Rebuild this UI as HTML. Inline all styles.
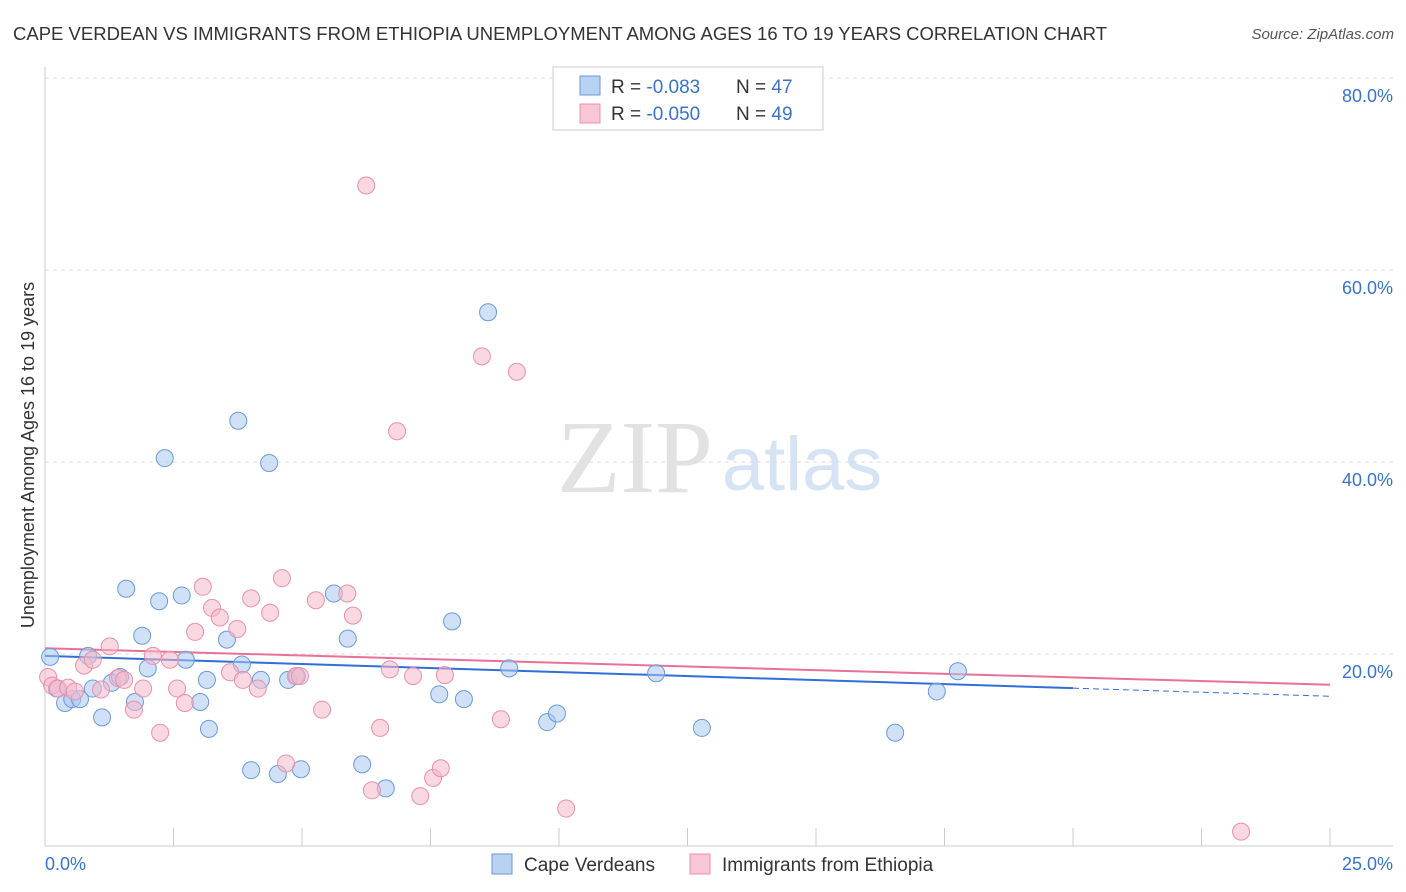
<!DOCTYPE html>
<html><head><meta charset="utf-8"><style>
body{margin:0;background:#fff;font-family:"Liberation Sans",sans-serif;}
svg{display:block}
</style></head><body>
<svg id="chart" width="1406" height="892">
<text x="13" y="40" font-size="18" fill="#333" textLength="1094" lengthAdjust="spacingAndGlyphs">CAPE VERDEAN VS IMMIGRANTS FROM ETHIOPIA UNEMPLOYMENT AMONG AGES 16 TO 19 YEARS CORRELATION CHART</text>
<text x="1394" y="39" font-size="15" fill="#555" font-style="italic" text-anchor="end">Source: ZipAtlas.com</text>
<g>
<text x="635" y="492" font-size="104" fill="#e2e2e2" font-family="Liberation Serif,serif" text-anchor="middle">ZIP</text>
<text x="802" y="490" font-size="76" fill="#d6e3f5" text-anchor="middle">atlas</text>
</g>
<g id="grid"></g>
<g id="axes"></g>
<g id="trends"></g>
<g id="points"></g>
<text transform="translate(34,455) rotate(-90)" font-size="18" fill="#333" text-anchor="middle">Unemployment Among Ages 16 to 19 years</text>
<text x="45" y="870" font-size="18" fill="#3a72c8">0.0%</text>
<text x="1393" y="870" font-size="18" fill="#3a72c8" text-anchor="end">25.0%</text>
<g>
<rect x="553" y="67" width="270" height="63" fill="#fff" stroke="#ccc"/>
<rect x="580" y="76" width="20" height="19" fill="#b8d2f2" stroke="#6a9ad8"/>
<rect x="580" y="104" width="20" height="19" fill="#f8c6d5" stroke="#e890ab"/>
<text x="611" y="93" font-size="19" fill="#333">R = <tspan fill="#3a72c8">-0.083</tspan><tspan x="736">N = </tspan><tspan fill="#3a72c8">47</tspan></text>
<text x="611" y="120" font-size="19" fill="#333">R = <tspan fill="#3a72c8">-0.050</tspan><tspan x="736">N = </tspan><tspan fill="#3a72c8">49</tspan></text>
</g>
<g>
<rect x="492" y="854" width="20" height="20" fill="#b8d2f2" stroke="#6a9ad8"/>
<text x="524" y="871" font-size="19" fill="#333">Cape Verdeans</text>
<rect x="690" y="854" width="20" height="20" fill="#f8c6d5" stroke="#e890ab"/>
<text x="722" y="871" font-size="19" fill="#333">Immigrants from Ethiopia</text>
</g>
</svg>
<script>
const yTicks=[20,40,60,80];
const yTickLabels=["20.0%","40.0%","60.0%","80.0%"];
const xTicks=[0,2.5,5,7.5,10,12.5,15,17.5,20,22.5,25];
const blueX=[0.10,0.23,0.39,0.53,0.68,0.84,0.93,1.11,1.30,1.46,1.58,1.75,1.89,2.00,2.22,2.33,2.66,2.74,3.02,3.15,3.19,3.54,3.76,3.83,4.01,4.20,4.36,4.53,4.73,4.90,4.98,5.62,5.89,6.17,6.63,7.67,7.92,8.15,8.62,9.03,9.77,9.96,11.89,12.78,16.54,17.35,17.76];
const blueY=[19.7,16.4,14.9,15.3,15.3,19.8,16.4,13.4,17.0,17.6,26.8,15.0,21.9,18.5,25.5,40.4,26.1,19.4,15.0,17.3,12.2,21.5,44.3,18.9,7.9,17.3,39.9,7.5,17.3,17.7,8.0,26.3,21.6,8.5,6.0,15.8,23.4,15.3,55.6,18.5,12.9,13.8,18.0,12.3,11.8,16.1,18.2];
const pinkX=[0.06,0.14,0.25,0.45,0.58,0.76,0.93,1.09,1.26,1.42,1.54,1.73,1.91,2.10,2.24,2.43,2.57,2.72,2.92,3.07,3.25,3.40,3.60,3.74,3.85,4.01,4.14,4.38,4.61,4.69,4.88,4.96,5.27,5.39,5.88,5.99,6.25,6.36,6.52,6.71,6.85,7.16,7.30,7.55,7.70,7.78,8.50,8.87,9.18,10.14,23.27];
const pinkY=[17.6,16.7,16.4,16.5,16.1,18.8,19.4,16.3,20.8,17.5,17.3,14.2,16.4,19.8,11.8,19.4,16.4,14.9,22.3,27.0,24.8,23.8,18.1,22.6,17.3,25.8,16.4,24.3,27.9,8.6,17.7,17.7,25.6,14.2,26.3,24.0,68.8,5.8,12.3,18.4,43.2,17.7,5.2,7.1,8.1,17.8,51.0,13.2,49.4,3.9,1.5];
const blueTrend=[19.8,15.6];
const pinkTrend=[20.6,16.8];
const X=v=>45+v/25*1285, Y=v=>846-v/80*768;
const NS="http://www.w3.org/2000/svg";
function mk(parent,tag,attrs){const e=document.createElementNS(NS,tag);for(const k in attrs)e.setAttribute(k,attrs[k]);document.getElementById(parent).appendChild(e);return e;}
yTicks.forEach((t,i)=>{
 const l=mk('grid','line',{x1:45,x2:1393,y1:Y(t),y2:Y(t),stroke:'#ddd','stroke-dasharray':'4,4'});
 
 
 const tx=mk('grid','text',{x:1393,y:Y(t)+24,'font-size':18,fill:'#3a72c8','text-anchor':'end'});
 tx.textContent=yTickLabels[i];
 
 
});
const ax=mk('axes','line',{x1:45,x2:1393,y1:846,y2:846,stroke:'#ccc'});


const ay=mk('axes','line',{x1:45,x2:45,y1:67,y2:846,stroke:'#ccc'});


xTicks.forEach(t=>{
 const l=mk('axes','line',{x1:X(t),x2:X(t),y1:828,y2:846,stroke:'#ccc'});
 
 
});
function pts(xs,ys,fill,stroke,name){
 xs.forEach((x,i)=>{
  const c=mk('points','circle',{cx:X(x),cy:Y(ys[i]),r:8.5,fill:fill,'fill-opacity':0.55,stroke:stroke,'stroke-width':1});
  
  
 });
}
pts(blueX,blueY,'#a9c8f0','#6a9ad8','cape-verdean-point');
pts(pinkX,pinkY,'#f5b8cb','#e890ab','ethiopia-point');
function yAt(tr,x){return tr[0]+(tr[1]-tr[0])*x/25;}
let t1=mk('trends','line',{x1:X(0),y1:Y(blueTrend[0]),x2:X(20),y2:Y(yAt(blueTrend,20)),stroke:'#2f6fd6','stroke-width':2});


let t2=mk('trends','line',{x1:X(20),y1:Y(yAt(blueTrend,20)),x2:X(25),y2:Y(blueTrend[1]),stroke:'#2f6fd6','stroke-width':1,'stroke-dasharray':'6,4'});


let t3=mk('trends','line',{x1:X(0),y1:Y(pinkTrend[0]),x2:X(25),y2:Y(pinkTrend[1]),stroke:'#e8709a','stroke-width':2});


</script>
</body></html>
